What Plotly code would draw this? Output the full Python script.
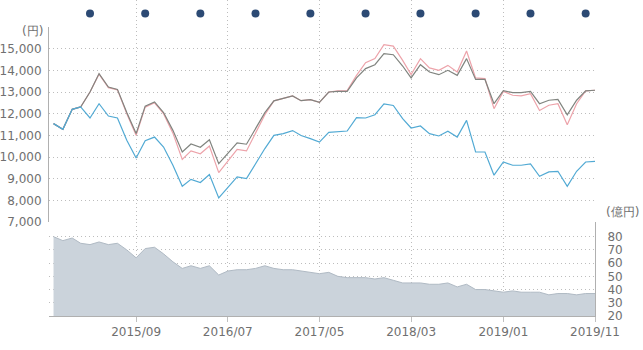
import pandas as pd
import plotly.graph_objects as go

months = [d.strftime("%Y-%m-%d") for d in pd.date_range("2014-12-01", periods=60, freq="MS")]

series_blue = [11540, 11280, 12200, 12310, 11800, 12460, 11890, 11800, 10770, 9955,
               10750, 10920, 10460, 9620, 8650, 8970, 8820, 9190, 8110, 8590,
               9080, 9000, 9690, 10390, 11000, 11080, 11220, 10990, 10850, 10690,
               11140, 11180, 11200, 11820, 11800, 11950, 12450, 12380, 11770, 11340,
               11430, 11080, 10970, 11190, 10920, 11690, 10230, 10230, 9160, 9770,
               9620, 9620, 9680, 9110, 9310, 9340, 8650, 9340, 9770, 9800]
series_gray = [11540, 11280, 12200, 12310, 13000, 13850, 13230, 13120, 12050, 11080,
               12350, 12540, 12050, 11230, 10230, 10600, 10450, 10800, 9690, 10150,
               10650, 10590, 11310, 12050, 12590, 12690, 12820, 12600, 12650, 12520,
               13000, 13030, 13030, 13650, 14080, 14260, 14770, 14720, 14200, 13650,
               14260, 13920, 13800, 14000, 13770, 14540, 13580, 13580, 12460, 13060,
               12970, 12970, 13030, 12460, 12620, 12660, 11950, 12620, 13050, 13080]
series_pink = [11540, 11280, 12200, 12310, 13000, 13820, 13200, 13100, 12000, 11000,
               12300, 12500, 12000, 11100, 9890, 10280, 10150, 10510, 9280, 9800,
               10350, 10280, 11080, 11950, 12590, 12690, 12820, 12600, 12650, 12520,
               13000, 13050, 13070, 13770, 14350, 14540, 15180, 15120, 14460, 13800,
               14540, 14110, 14000, 14230, 13920, 14890, 13650, 13620, 12230, 13030,
               12850, 12820, 12920, 12150, 12390, 12460, 11490, 12460, 13050, 13080]
assets = [80, 77, 79, 75, 74, 76, 74, 75, 70, 64,
          71, 72, 67, 61, 56, 58, 56, 58, 51, 54,
          55, 55, 56, 58, 56, 55, 55, 54, 53, 52,
          53, 50, 49, 49, 49, 48, 49, 47, 45, 45,
          45, 44, 44, 45, 42, 44, 40, 40, 39, 38,
          39, 38, 38, 38, 36, 37, 37, 36, 37, 37]
dot_dates = ["2015-04-01", "2015-10-01", "2016-04-01", "2016-10-01", "2017-04-01",
             "2017-10-01", "2018-04-01", "2018-10-01", "2019-04-01", "2019-10-01"]
tick_dates = ["2015-09-01", "2016-07-01", "2017-05-01", "2018-03-01", "2019-01-01", "2019-11-01"]
tick_labels = ["2015/09", "2016/07", "2017/05", "2018/03", "2019/01", "2019/11"]
price_ticks = [7000, 8000, 9000, 10000, 11000, 12000, 13000, 14000, 15000, 16000]
price_labels = ["7,000", "8,000", "9,000", "10,000", "11,000", "12,000", "13,000", "14,000", "15,000", ""]
asset_ticks = [20, 30, 40, 50, 60, 70, 80]

FONT = "DejaVu Sans"
TXT = "#707070"
GRID = "#bdbdbd"
DASH = "1px,3px"
xr = ["2014-11-16", "2019-11-01"]

fig = go.Figure()
fig.add_trace(go.Scatter(x=months, y=assets, xaxis="x", yaxis="y", mode="lines",
                         fill="tozeroy", fillcolor="#cbd3db",
                         line=dict(color="#b0bac4", width=1), hoverinfo="skip"))
fig.add_trace(go.Scatter(x=months, y=series_pink, xaxis="x2", yaxis="y2", mode="lines",
                         line=dict(color="#eda3aa", width=1.2)))
fig.add_trace(go.Scatter(x=months, y=series_gray, xaxis="x2", yaxis="y2", mode="lines",
                         line=dict(color="#80847f", width=1.2)))
fig.add_trace(go.Scatter(x=months, y=series_blue, xaxis="x2", yaxis="y2", mode="lines",
                         line=dict(color="#52aad4", width=1.2)))
fig.add_trace(go.Scatter(x=dot_dates, y=[0.5] * len(dot_dates), xaxis="x3", yaxis="y3",
                         mode="markers", marker=dict(color="#2c4a74", size=8)))

H = 316.0
def py(p):
    return (H - p) / H

xcommon = dict(type="date", range=xr, tickvals=tick_dates, showgrid=True,
               gridcolor=GRID, griddash=DASH, gridwidth=1, zeroline=False)

fig.update_layout(
    width=643, height=350,
    margin=dict(l=47, r=48, t=0, b=34),
    paper_bgcolor="white", plot_bgcolor="white",
    showlegend=False,
    font=dict(family=FONT, size=12, color=TXT),
    xaxis=dict(**xcommon, anchor="y", domain=[0, 1], ticktext=tick_labels,
               ticks="outside", ticklen=5, tickcolor="#c0c0c0",
               showline=True, linecolor="#b0b0b0", linewidth=1,
               tickfont=dict(family=FONT, size=12, color=TXT)),
    xaxis2=dict(**xcommon, anchor="y2", matches="x", showticklabels=False),
    xaxis3=dict(**xcommon, anchor="y3", matches="x", showticklabels=False),
    yaxis=dict(domain=[0, py(222)], range=[20, 91.1], side="right",
               tickvals=asset_ticks, showgrid=True, gridcolor=GRID, griddash=DASH,
               showline=True, linecolor="#b0b0b0", linewidth=1, zeroline=False,
               ticks="", ticklabelstandoff=9,
               tickfont=dict(family=FONT, size=12, color=TXT)),
    yaxis2=dict(domain=[py(222), py(27)], range=[7000, 16000],
                tickvals=price_ticks, ticktext=price_labels,
                showgrid=True, gridcolor=GRID, griddash=DASH,
                showline=True, linecolor="#b0b0b0", linewidth=1, zeroline=False,
                ticks="", ticklabelstandoff=4,
                tickfont=dict(family=FONT, size=12, color=TXT)),
    yaxis3=dict(domain=[py(27), 1], range=[0, 1], visible=False),
    annotations=[
        dict(text="(円)", xref="paper", yref="paper", x=-0.007, y=py(31.5),
             xanchor="right", yanchor="middle", showarrow=False,
             font=dict(family=FONT, size=12, color=TXT)),
        dict(text="(億円)", xref="paper", yref="paper", x=1.016, y=py(212),
             xanchor="left", yanchor="middle", showarrow=False,
             font=dict(family=FONT, size=12, color=TXT)),
    ],
)

fig.write_html("out.html")
